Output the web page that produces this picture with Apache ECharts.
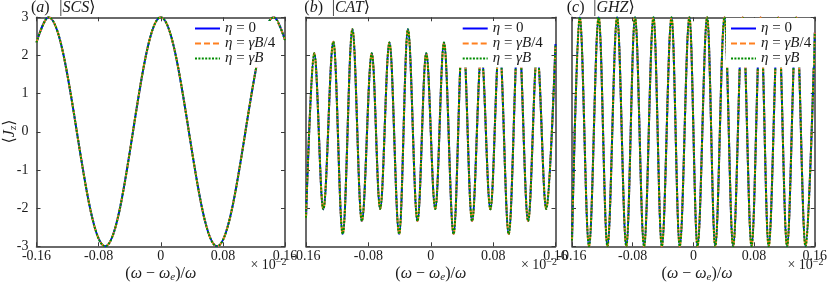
<!DOCTYPE html>
<html><head><meta charset="utf-8">
<script src="https://cdn.jsdelivr.net/npm/echarts@6/dist/echarts.min.js"></script>
<style>html,body{margin:0;padding:0;background:#fff}#c{width:830px;height:289px}</style>
</head><body><div id="c"></div>
<script>
// ---- data ----
const xTicks = [-0.16, -0.08, 0, 0.08, 0.16];
const yTicks = [-3, -2, -1, 0, 1, 2, 3];
const seriesNames = ['η = 0', 'η = γB/4', 'η = γB'];
const panelLetters = ['a', 'b', 'c'];
const stateNames = ['SCS', 'CAT', 'GHZ'];

// (a) |SCS>  : edge values and extrema
const scsX = [-0.16, -0.1445, -0.0716, 0.0, 0.0725, 0.1455, 0.16];
const scsY = [2.34, 3.0, -3.0, 3.0, -3.0, 3.0, 2.4];

// (b) |CAT>
const catX = [-0.16, -0.1494, -0.1378, -0.1249, -0.1129, -0.1005, -0.0884, -0.0756, -0.0649, -0.0530,
              -0.0405, -0.0293, -0.0170, -0.0058, 0.0058, 0.0170, 0.0293, 0.0411, 0.0530, 0.0649,
              0.0765, 0.0880, 0.1000, 0.1125, 0.1249, 0.1365, 0.1481, 0.16];
const catY = [-2.25, 2.06, -2.03, 2.36, -2.68, 2.69, -2.34, 2.06, -2.02, 2.34,
              -2.68, 2.69, -2.34, 2.06, -2.02, 2.34, -2.68, 2.69, -2.34, 2.06,
              -2.03, 2.34, -2.68, 2.69, -2.34, 2.06, -2.02, 2.3];

// (c) |GHZ>
const ghzX = [-0.16, -0.1498, -0.1376, -0.1248, -0.1133, -0.1005, -0.0884, -0.0769, -0.0650, -0.0526,
              -0.0416, -0.0288, -0.0180, -0.0052, 0.0054, 0.0182, 0.0288, 0.0410, 0.0524, 0.0650,
              0.0767, 0.0886, 0.0992, 0.1120, 0.1235, 0.1358, 0.1478, 0.16];
const ghzY = [-2.85, 3, -3, 3, -3, 3, -3, 3, -3, 3,
              -3, 3, -3, 3, -3, 3, -3, 3, -3, 3,
              -3, 3, -3, 3, -3, 3, -3, 2.6];

// ---- layout / style ----
const panels = [[scsX, scsY], [catX, catY], [ghzX, ghzY]];
const gridBox = [{left: 36.5, width: 248.5}, {left: 306, width: 249.5}, {left: 572, width: 250}];
const gTop = 17.3, gHeight = 229;
const legendLeft = [190, 457.7, 726];
const legendTop = [21, 21, 18];
const SERIF = '"Liberation Serif","DejaVu Serif",serif';
const lineStyles = [
  {color: '#0000ff', type: 'solid', width: 2},
  {color: '#ff8020', type: [6, 3], width: 2},
  {color: '#008c00', type: [2, 1.4], width: 2}
];
const axisColor = '#3a3a3a';
const txtColor = '#1a1a1a';

const legendRich = {
  'η = 0': '{i|η} = 0',
  'η = γB/4': '{i|η} = {i|γB}/4',
  'η = γB': '{i|η} = {i|γB}'
};

const grid = [], xAxis = [], yAxis = [], series = [], legend = [];
panels.forEach((p, k) => {
  grid.push({left: gridBox[k].left, width: gridBox[k].width, top: gTop, height: gHeight, containLabel: false});
  const common = {
    type: 'value', gridIndex: k,
    axisLine: {show: true, onZero: false, lineStyle: {color: axisColor, width: 1.5}},
    axisTick: {show: true, inside: true, length: 4, lineStyle: {color: axisColor, width: 1}},
    splitLine: {show: false}
  };
  xAxis.push(Object.assign({}, common, {
    position: 'bottom', min: xTicks[0], max: xTicks[xTicks.length - 1], interval: xTicks[1] - xTicks[0],
    axisLabel: {show: true, interval: 0, margin: 3, fontSize: 14, fontFamily: SERIF, color: txtColor,
                showMinLabel: true, showMaxLabel: true}
  }));
  xAxis.push(Object.assign({}, common, {
    position: 'top', min: xTicks[0], max: xTicks[xTicks.length - 1], interval: xTicks[1] - xTicks[0],
    axisLabel: {show: false}
  }));
  yAxis.push(Object.assign({}, common, {
    position: 'left', min: yTicks[0], max: yTicks[yTicks.length - 1], interval: 1,
    axisLabel: {show: k === 0, margin: 8, fontSize: 14, fontFamily: SERIF, color: txtColor}
  }));
  yAxis.push(Object.assign({}, common, {
    position: 'right', min: yTicks[0], max: yTicks[yTicks.length - 1], interval: 1,
    axisLabel: {show: false}
  }));
  const data = p[0].map((x, i) => [x, p[1][i]]);
  seriesNames.forEach((nm, s) => {
    series.push({
      type: 'line', name: nm, xAxisIndex: 2 * k, yAxisIndex: 2 * k,
      data: data, symbol: 'none', showSymbol: false,
      smooth: 0.36, smoothMonotone: 'x', clip: true,
      lineStyle: lineStyles[s], itemStyle: {color: lineStyles[s].color},
      animation: false, silent: true, z: 2
    });
  });
  legend.push({
    left: legendLeft[k], top: legendTop[k], orient: 'vertical', z: 20,
    itemWidth: 25, itemHeight: 2, itemGap: 0, padding: [21 - legendTop[k], 2, 1.5, 4],
    backgroundColor: '#ffffff', selectedMode: false, data: seriesNames,
    itemStyle: {opacity: 0, borderWidth: 0},
    formatter: n => legendRich[n],
    textStyle: {fontFamily: SERIF, fontSize: 15, color: txtColor, lineHeight: 14.2,
      rich: {i: {fontStyle: 'italic', fontFamily: SERIF, fontSize: 15, lineHeight: 14.2, color: txtColor}}}
  });
});

const graphic = [];
const titleX = [31, 304.3, 566.7];
const stateX = [59.3, 331.7, 593.3];
const richMain = {
  i: {fontStyle: 'italic', fontFamily: SERIF, fontSize: 16, color: txtColor},
  n: {fontFamily: SERIF, fontSize: 16, color: txtColor},
  sub: {fontStyle: 'italic', fontFamily: SERIF, fontSize: 11, color: txtColor, verticalAlign: 'bottom', padding: [6, 0, 0, 0]},
  x: {fontFamily: SERIF, fontSize: 14, color: txtColor},
  sup: {fontFamily: SERIF, fontSize: 10, color: txtColor, verticalAlign: 'top', padding: [0, 0, 6, 0]}
};
function txt(x, y, text, align, rot) {
  return {type: 'text', x: x, y: y, rotation: rot || 0, silent: true,
    style: {text: text, rich: richMain, font: '16px ' + SERIF, fill: txtColor,
            textAlign: align, align: align, textVerticalAlign: 'middle', verticalAlign: 'middle'}};
}
panels.forEach((p, k) => {
  graphic.push(txt(titleX[k], 8, '{n|(}{i|' + panelLetters[k] + '}{n|)}', 'left'));
  graphic.push(txt(stateX[k], 8, '{n||}{i|' + stateNames[k] + '}{n|⟩}', 'left'));
  const cx = gridBox[k].left + gridBox[k].width / 2;
  graphic.push(txt(cx, 274, '{n|(}{i|ω}{n| − }{i|ω}{sub|e}{n|)/}{i|ω}', 'center'));
  graphic.push(txt(gridBox[k].left + gridBox[k].width + 1.5, 265, '{x|× 10}{sup|−2}', 'right'));
});
graphic.push(txt(10, 131.5, '{n|⟨}{i|J}{sub|z}{n|⟩}', 'center', Math.PI / 2));

const chart = echarts.init(document.getElementById('c'), null, {renderer: 'canvas'});
chart.setOption({
  animation: false,
  backgroundColor: '#ffffff',
  grid: grid, xAxis: xAxis, yAxis: yAxis, series: series, legend: legend, graphic: graphic
});
</script></body></html>
